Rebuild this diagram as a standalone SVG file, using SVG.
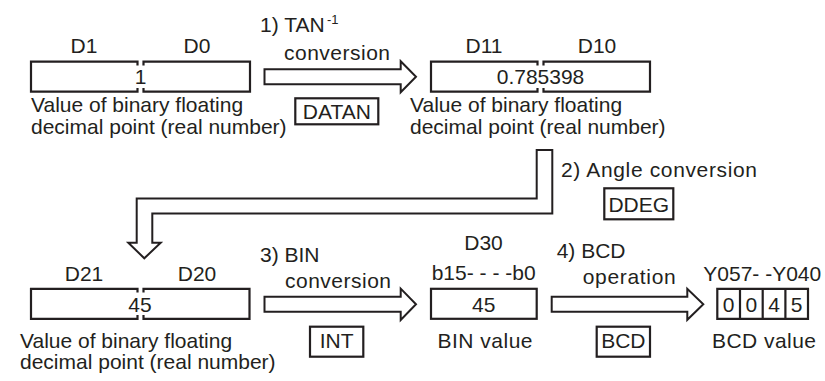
<svg xmlns="http://www.w3.org/2000/svg" width="825" height="381" viewBox="0 0 825 381">
<style>
text{font-family:"Liberation Sans",Arial,sans-serif;font-size:21px;fill:#231f20}
.m{text-anchor:middle}
.s{font-size:13px}
.b{fill:none;stroke:#231f20;stroke-width:2.2}
.a{fill:#fff;stroke:#231f20;stroke-width:2;stroke-linejoin:miter}
</style>
<rect width="825" height="381" fill="#fff"/>
<g id="connectors">
<polygon class="a" points="264.5,69.2 400.7,69.2 400.7,61.2 416,76.7 400.7,92.2 400.7,84.2 264.5,84.2"/>
<polygon class="a" points="536.7,150 552.3,150 552.3,213.5 152.3,213.5 152.3,242.7 160.7,242.7 144.3,258.3 128.3,242.7 136.7,242.7 136.7,198.5 536.7,198.5"/>
<polygon class="a" points="264.5,296.8 400.7,296.8 400.7,288.6 416,304.3 400.7,320 400.7,311.8 264.5,311.8"/>
<polygon class="a" points="551.7,296.8 687.3,296.8 687.3,288.8 703.3,304.3 687.3,319.8 687.3,311.8 551.7,311.8"/>
</g>
<g id="op1">
<text x="260" y="31.7">1) TAN</text><text class="s" x="327" y="24">-1</text>
<text x="284" y="60" textLength="106">conversion</text>
<rect class="b" x="295.3" y="98.3" width="83" height="26"/>
<text class="m" x="336.8" y="118.7">DATAN</text>
</g>
<g id="src">
<text class="m" x="84" y="52.7">D1</text>
<text class="m" x="197" y="52.7">D0</text>
<path class="b" d="M137.5,65.5V61.7H31V91.7H137.5V88M143.5,65.5V61.7H250V91.7H143.5V88"/>
<text class="m" x="140.5" y="84.2">1</text>
<text><tspan x="31" y="112.3">Value of binary floating</tspan><tspan x="31" y="133.5">decimal point (real number)</tspan></text>
</g>
<g id="tan">
<text class="m" x="484" y="52.7">D11</text>
<text class="m" x="597" y="52.7">D10</text>
<path class="b" d="M537.5,65.5V61.7H431V91.7H537.5V88M543.5,65.5V61.7H650V91.7H543.5V88"/>
<text class="m" x="540.5" y="84.2">0.785398</text>
<text><tspan x="410" y="112.3">Value of binary floating</tspan><tspan x="410" y="133.5">decimal point (real number)</tspan></text>
</g>
<g id="op2">
<text x="561" y="177.3" textLength="196">2) Angle conversion</text>
<rect class="b" x="604.3" y="188.3" width="69" height="31"/>
<text class="m" x="638.8" y="211.5">DDEG</text>
</g>
<g id="deg">
<text class="m" x="84" y="280.5">D21</text>
<text class="m" x="197" y="280.5">D20</text>
<path class="b" d="M137.5,292.5V288.8H31V318.8H137.5V315M143.5,292.5V288.8H249.5V318.8H143.5V315"/>
<text class="m" x="140" y="311.5">45</text>
<text><tspan x="20" y="347.6">Value of binary floating</tspan><tspan x="20" y="368.8">decimal point (real number)</tspan></text>
</g>
<g id="op3">
<text x="260" y="262">3) BIN</text>
<text x="285" y="288.3" textLength="106">conversion</text>
<rect class="b" x="310" y="326.7" width="53.3" height="30"/>
<text class="m" x="336.7" y="348.3">INT</text>
</g>
<g id="bin">
<text class="m" x="483.5" y="250">D30</text>
<text x="431.7" y="280">b15- - - -b0</text>
<rect class="b" x="431" y="288.8" width="105.7" height="30"/>
<text class="m" x="483.8" y="311.5">45</text>
<text class="m" x="485" y="348.3" textLength="95">BIN value</text>
</g>
<g id="op4">
<text x="556.7" y="258.3">4) BCD</text>
<text x="582.7" y="283.5" textLength="93">operation</text>
<rect class="b" x="596.7" y="326.7" width="53.3" height="30"/>
<text class="m" x="623.3" y="348.3">BCD</text>
</g>
<g id="bcd">
<text x="703.3" y="280.5">Y057- -Y040</text>
<path class="b" d="M717.3,288.8H808V318.8H717.3ZM740,288.8V318.8M762.7,288.8V318.8M785.4,288.8V318.8"/>
<text class="m" x="728.7" y="311.5">0</text>
<text class="m" x="751.4" y="311.5">0</text>
<text class="m" x="774" y="311.5">4</text>
<text class="m" x="796.7" y="311.5">5</text>
<text class="m" x="764" y="348.3" textLength="104">BCD value</text>
</g>
</svg>
